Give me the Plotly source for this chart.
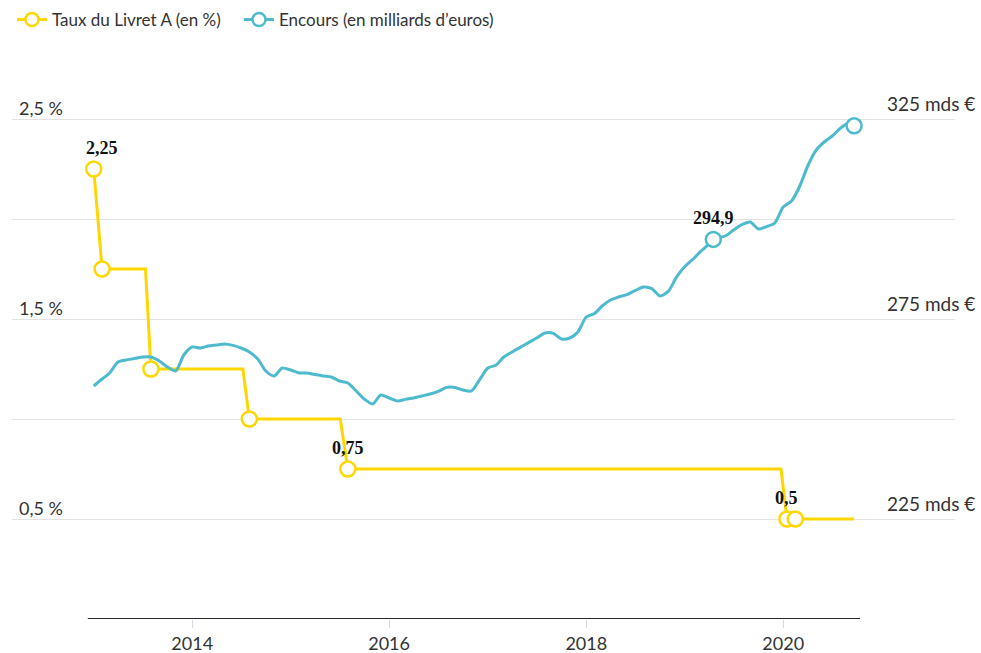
import plotly.graph_objects as go
import pandas as pd

# ---------------- data ----------------
rate_dates = ["2013-01-01", "2013-02-01", "2013-07-12", "2013-08-01", "2014-07-08",
              "2014-08-01", "2015-07-04", "2015-08-01", "2019-12-24", "2020-01-15",
              "2020-02-15", "2020-09-20"]
rate_values = [2.25, 1.75, 1.75, 1.25, 1.25, 1.0, 1.0, 0.75, 0.75, 0.5, 0.5, 0.5]
rate_marker_idx = [0, 1, 3, 5, 7, 9, 10]
rate_label_idx = [0, 7, 9]

enc_months = list(pd.date_range("2013-01-01", "2020-09-01", freq="MS").strftime("%Y-%m-%d"))
enc_monthly_values = [
    258.25, 260.0, 261.5, 264.25, 264.75, 265.1, 265.5, 265.5, 264.5, 263.0, 262.0, 266.0,   # 2013
    268.0, 267.75, 268.25, 268.5, 268.75, 268.4, 267.75, 266.75, 265.0, 262.0, 260.75, 262.75,  # 2014
    262.25, 261.5, 261.5, 261.1, 260.75, 260.5, 259.5, 259.0, 257.0, 255.0, 253.75, 256.0,  # 2015
    255.25, 254.5, 254.9, 255.25, 255.75, 256.25, 256.9, 257.9, 257.9, 257.25, 257.0, 259.75,  # 2016
    262.75, 263.5, 265.5, 266.75, 267.9, 269.1, 270.25, 271.5, 271.4, 270.0, 270.25, 271.75,  # 2017
    275.5, 276.4, 278.25, 279.75, 280.5, 281.1, 282.1, 283.0, 282.6, 280.75, 281.9, 285.4,  # 2018
    288.1, 290.0, 291.9, 293.75, 295.3, 295.75, 297.25, 298.6, 299.25, 297.5, 298.1, 299.0,  # 2019
    303.0, 304.5, 308.0, 313.25, 317.1, 319.25, 320.75, 322.75, 324.0,  # 2020
]
enc_extra_dates = ["2019-04-17", "2020-09-20"]
enc_extra_values = [294.9, 323.3]
enc_label_value = 294.9

rate_ticks = [0, 0.5, 1.0, 1.5, 2.0, 2.5]
rate_tick_labels = {0.5: "0,5 %", 1.5: "1,5 %", 2.5: "2,5 %"}
enc_ticks = [225, 275, 325]
enc_tick_labels = ["225 mds €", "275 mds €", "325 mds €"]

legend_names = ["Taux du Livret A (en %)", "Encours (en milliards d’euros)"]

# merge encours series
enc = sorted(zip(enc_months + enc_extra_dates, enc_monthly_values + enc_extra_values))
enc_dates = [d for d, _ in enc]
enc_values = [v for _, v in enc]

YELLOW = "#FFD700"
BLUE = "#4DBACD"
TXT = "#333333"
SANS = "Lato"
SERIF = "Liberation Serif"


def fmt(v):
    return f"{v:g}".replace(".", ",")


fig = go.Figure()
fig.add_trace(go.Scatter(x=rate_dates, y=rate_values, mode="lines",
                         line=dict(color=YELLOW, width=3), showlegend=False, hoverinfo="skip"))
fig.add_trace(go.Scatter(x=enc_dates, y=enc_values, yaxis="y2", mode="lines",
                         line=dict(color=BLUE, width=3, shape="spline", smoothing=0.7),
                         showlegend=False, hoverinfo="skip"))
fig.add_trace(go.Scatter(x=[rate_dates[i] for i in rate_marker_idx],
                         y=[rate_values[i] for i in rate_marker_idx], mode="markers",
                         marker=dict(size=15, color="white", line=dict(color=YELLOW, width=2.5)),
                         showlegend=False, hoverinfo="skip"))
fig.add_trace(go.Scatter(x=enc_extra_dates, y=enc_extra_values, yaxis="y2", mode="markers",
                         marker=dict(size=15, color="white", line=dict(color=BLUE, width=2.5)),
                         showlegend=False, hoverinfo="skip"))
# legend entries (one legend box each)
for name, col, lg in zip(legend_names, [YELLOW, BLUE], ["legend", "legend2"]):
    fig.add_trace(go.Scatter(x=[None], y=[None], mode="lines+markers", name=name, legend=lg,
                             line=dict(color=col, width=3),
                             marker=dict(size=13, color="white", line=dict(color=col, width=2.5))))

annotations = []
for v in rate_ticks:
    if v in rate_tick_labels:
        annotations.append(dict(xref="paper", x=0, xanchor="left", xshift=5,
                                yref="y", y=v, yanchor="bottom", yshift=-2,
                                text=rate_tick_labels[v], showarrow=False,
                                font=dict(family=SANS, size=18, color=TXT)))
for v, lab in zip(enc_ticks, enc_tick_labels):
    annotations.append(dict(xref="paper", x=1.0235, xanchor="right",
                            yref="y2", y=v, yanchor="bottom", yshift=2,
                            text=lab, showarrow=False,
                            font=dict(family=SANS, size=19, color=TXT)))
for i in rate_label_idx:
    annotations.append(dict(x=rate_dates[i], y=rate_values[i], yref="y",
                            yanchor="bottom", yshift=9, xshift=8 if i == 0 else 0,
                            text="<b>" + fmt(rate_values[i]) + "</b>", showarrow=False,
                            font=dict(family=SERIF, size=18, color="#111111")))
j = enc_extra_values.index(enc_label_value)
annotations.append(dict(x=enc_extra_dates[j], y=enc_extra_values[j], yref="y2",
                        yanchor="bottom", yshift=9,
                        text="<b>" + fmt(enc_extra_values[j]) + "</b>", showarrow=False,
                        font=dict(family=SERIF, size=18, color="#111111")))

y_top = 2.795
axis_start = pd.Timestamp(rate_dates[0]) - pd.Timedelta(days=22)
axis_end = pd.Timestamp(rate_dates[-1]) + pd.Timedelta(days=22)
legend_style = dict(orientation="h", xanchor="left", y=(619 - 20) / 559, yanchor="middle",
                    font=dict(family=SANS, size=17, color=TXT), bgcolor="rgba(0,0,0,0)")

fig.update_layout(
    template="none",
    width=981, height=653,
    margin=dict(l=12, r=26, t=60, b=34, autoexpand=False),
    paper_bgcolor="white", plot_bgcolor="white",
    font=dict(family=SANS, color=TXT),
    xaxis=dict(type="date", range=["2012-03-04", "2021-09-29"],
               tick0="2014-01-01", dtick="M24", tickformat="%Y",
               ticks="outside", ticklen=8, tickwidth=1, tickcolor="#d3d9e6",
               showgrid=False, zeroline=False, showline=False, automargin=False,
               tickfont=dict(family=SANS, size=18, color=TXT)),
    yaxis=dict(range=[0, y_top], tickvals=rate_ticks, showticklabels=False, ticks="",
               showgrid=True, gridcolor="#e3e3e3", gridwidth=1, zeroline=False,
               showline=False, automargin=False),
    yaxis2=dict(range=[200, 200 + y_top * 50], overlaying="y", visible=False,
                showgrid=False, automargin=False),
    showlegend=True,
    legend=dict(x=0, **legend_style),
    legend2=dict(x=(239 - 12) / 943, **legend_style),
    annotations=annotations,
    shapes=[dict(type="line", xref="x", yref="y", x0=axis_start, x1=axis_end, y0=0, y1=0,
                 line=dict(color="#2a2a2a", width=2))],
    hovermode=False,
)

fig.write_html("out.html", config={"displayModeBar": False})
with open("out.html", encoding="utf-8") as f:
    html = f.read()
html = html.replace("<body>", '<body style="margin:0;padding:0;overflow:hidden">', 1)
with open("out.html", "w", encoding="utf-8") as f:
    f.write(html)
